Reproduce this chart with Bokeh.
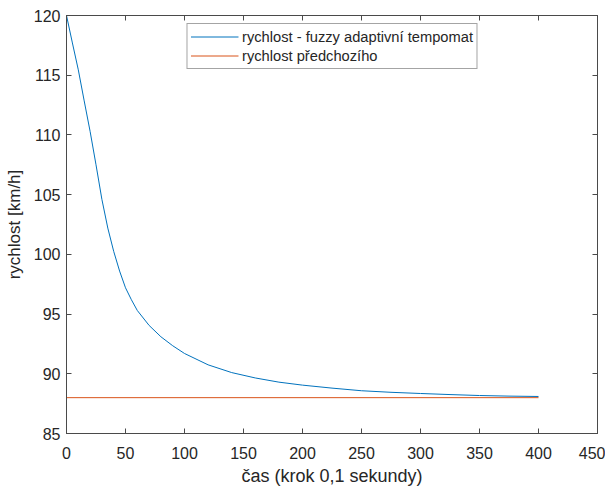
from bokeh.plotting import figure
from bokeh.models import LinearAxis, FixedTicker, Range1d, Legend, LegendItem
from bokeh.embed import file_html
from bokeh.resources import INLINE

# Data
steps = [0, 5, 10, 15, 20, 25, 30, 35, 40, 45, 50, 55, 60, 70, 80, 90, 100, 120, 140,
         160, 180, 200, 225, 250, 275, 300, 325, 350, 375, 400]
speed_fuzzy = [120, 117.7, 115.45, 112.85, 110.3, 107.5, 104.6, 102.2, 100.25, 98.6, 97.2,
               96.2, 95.3, 94.05, 93.1, 92.35, 91.7, 90.75, 90.1, 89.65, 89.3, 89.05,
               88.8, 88.58, 88.45, 88.35, 88.26, 88.18, 88.13, 88.1]
lead_steps = [0, 400]
speed_lead = [88.0, 88.0]

x_ticks = [0, 50, 100, 150, 200, 250, 300, 350, 400, 450]
y_ticks = [85, 90, 95, 100, 105, 110, 115, 120]

label_series1 = "rychlost - fuzzy adaptivní tempomat"
label_series2 = "rychlost předchozího"
x_label = "čas (krok 0,1 sekundy)"
y_label = "rychlost [km/h]"

FONT = "Liberation Sans"
AX = "#262626"
AXLINE = "#4a4a4a"

p = figure(frame_width=531, frame_height=418, output_backend="svg", toolbar_location=None,
           x_range=Range1d(0, 450), y_range=Range1d(85, 120),
           min_border_left=66, min_border_right=8, min_border_top=15, min_border_bottom=56,
           x_axis_location=None, y_axis_location=None)
p.grid.visible = False
p.outline_line_color = AXLINE
p.outline_line_width = 1
p.background_fill_color = "white"
p.border_fill_color = "white"

r1 = p.line(steps, speed_fuzzy, line_color="#0072BD", line_width=1)
r2 = p.line(lead_steps, speed_lead, line_color="#D95319", line_width=1)


def style(ax, labels=True):
    ax.axis_line_color = AXLINE
    ax.axis_line_width = 1
    ax.major_tick_line_color = AXLINE
    ax.major_tick_in = 5
    ax.major_tick_out = 0
    ax.minor_tick_line_color = None
    ax.major_label_text_font = FONT
    ax.major_label_text_color = AX
    ax.major_label_text_font_size = "16px"
    ax.axis_label_text_font = FONT
    ax.axis_label_text_color = AX
    ax.axis_label_text_font_size = "17px"
    ax.axis_label_text_font_style = "normal"
    if not labels:
        ax.major_label_text_font_size = "1px"
        ax.major_label_text_color = None
        ax.major_label_standoff = 0


xb = LinearAxis(ticker=FixedTicker(ticks=x_ticks), axis_label=x_label)
style(xb)
xb.major_label_standoff = 13
xb.axis_label_standoff = 4
xb.axis_label_text_font_size = "18px"
p.add_layout(xb, "below")

yl = LinearAxis(ticker=FixedTicker(ticks=y_ticks), axis_label=y_label)
style(yl)
yl.major_label_standoff = 6
yl.axis_label_standoff = 7
p.add_layout(yl, "left")

xt = LinearAxis(ticker=FixedTicker(ticks=x_ticks))
style(xt, labels=False)
p.add_layout(xt, "above")

yr = LinearAxis(ticker=FixedTicker(ticks=y_ticks))
style(yr, labels=False)
p.add_layout(yr, "right")

legend = Legend(items=[LegendItem(label=label_series1, renderers=[r1]),
                       LegendItem(label=label_series2, renderers=[r2])],
                location="top_center")
legend.margin = 8
legend.padding = 3
legend.spacing = 0
legend.glyph_width = 48
legend.glyph_height = 19
legend.label_height = 19
legend.label_standoff = 4
legend.label_text_font = FONT
legend.label_text_font_size = "14.7px"
legend.label_text_color = AX
legend.border_line_color = AXLINE
legend.border_line_width = 1
legend.background_fill_alpha = 1
p.add_layout(legend, "center")

open("out.html", "w").write(file_html(p, INLINE))
